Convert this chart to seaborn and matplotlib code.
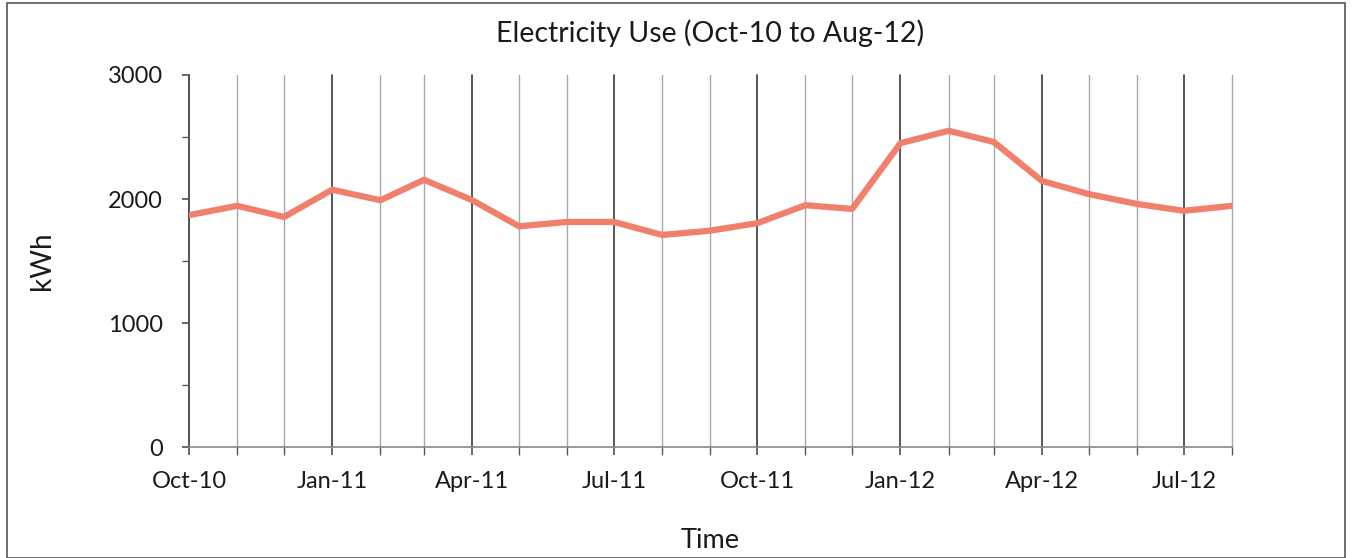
import numpy as np
import pandas as pd
import matplotlib
matplotlib.use("Agg")
import matplotlib.pyplot as plt
import matplotlib.dates as mdates
from matplotlib.patches import Rectangle
import seaborn as sns

months = pd.date_range("2010-10-01", "2012-08-01", freq="MS")
kwh = [1870, 1945, 1855, 2075, 1990, 2155, 1990, 1780, 1815, 1815,
       1710, 1745, 1805, 1950, 1920, 2450, 2550, 2460, 2145, 2040,
       1960, 1905, 1945]
title = "Electricity Use (Oct-10 to Aug-12)"
xlabel = "Time"
ylabel = "kWh"
yticks = [0, 1000, 2000, 3000]

sns.set_theme(style="white")
plt.rcParams['font.family'] = ['Lato', 'DejaVu Sans']

df = pd.DataFrame({"month": months, "kwh": kwh})

fig = plt.figure(figsize=(13.52, 5.58), dpi=100)
ax = fig.add_axes([0.1398, 0.1989, 0.7714, 0.6667])

sns.lineplot(data=df, x="month", y="kwh", ax=ax, color="#F0806C",
             linewidth=4.5, zorder=5)

ax.set_xlim(months[0], months[-1])
ax.set_ylim(0, 3000)
ax.set_yticks(yticks)
ax.yaxis.set_minor_locator(matplotlib.ticker.MultipleLocator(500))

ax.xaxis.set_major_locator(mdates.MonthLocator(bymonth=[1, 4, 7, 10]))
ax.xaxis.set_major_formatter(mdates.DateFormatter("%b-%y"))
ax.xaxis.set_minor_locator(mdates.MonthLocator())

ax.grid(True, axis="x", which="major", color="#3a3a3a", linewidth=1.2)
ax.grid(True, axis="x", which="minor", color="#a8a8a8", linewidth=1.0)
ax.grid(False, axis="y")

for s in ["top", "right"]:
    ax.spines[s].set_visible(False)
ax.spines["left"].set_color("#555555")
ax.spines["bottom"].set_color("#888888")
ax.spines["left"].set_linewidth(1.2)
ax.spines["bottom"].set_linewidth(1.2)

ax.tick_params(axis="x", which="both", direction="out", length=6,
               color="#555555", bottom=True, labelsize=17, pad=11,
               labelcolor="#1a1a1a")
ax.tick_params(axis="y", which="both", direction="out", length=5,
               color="#555555", left=True, labelsize=17, pad=14,
               labelcolor="#1a1a1a")

for t in ax.xaxis.get_minor_ticks() + ax.xaxis.get_major_ticks():
    t.gridline.set_clip_on(False)

ax.set_title(title, fontsize=20.5, color="#1a1a1a", pad=24)
ax.set_xlabel(xlabel, fontsize=19.5, color="#1a1a1a", labelpad=26)
ax.set_ylabel(ylabel, fontsize=20, color="#1a1a1a", labelpad=38)

fig.patches.append(Rectangle((0.005, 0.0), 0.99, 0.995, transform=fig.transFigure,
                             fill=False, edgecolor="#555555", linewidth=1.2))

fig.savefig("out.png", dpi=100)
